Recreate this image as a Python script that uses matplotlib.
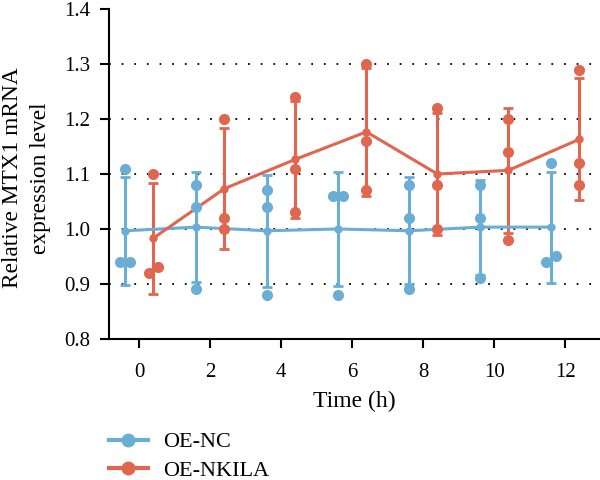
import numpy as np
import matplotlib
matplotlib.use("Agg")
import matplotlib.pyplot as plt
from matplotlib.lines import Line2D

# replicate values, one row per time point
times = [0, 2, 4, 6, 8, 10, 12]
nc_values = [
    [1.11, 0.94, 0.94],
    [1.08, 1.04, 0.89],
    [1.07, 1.04, 0.88],
    [1.06, 1.06, 0.88],
    [1.08, 1.02, 0.89],
    [1.08, 1.02, 0.91],
    [1.12, 0.94, 0.95],
]
nkila_values = [
    [1.10, 0.92, 0.93],
    [1.20, 1.02, 1.00],
    [1.24, 1.11, 1.03],
    [1.30, 1.16, 1.07],
    [1.22, 1.08, 1.00],
    [1.20, 1.14, 0.98],
    [1.29, 1.12, 1.08],
]
series_names = ["OE-NC", "OE-NKILA"]
x_ticks = [0, 2, 4, 6, 8, 10, 12]
y_ticks = [0.8, 0.9, 1.0, 1.1, 1.2, 1.3, 1.4]

BLUE = "#6aaed6"
RED = "#e0664f"

plt.rcParams["font.family"] = ["Liberation Serif", "DejaVu Serif"]


def spread(vals, width=0.13):
    # push overlapping replicate dots apart sideways, like a prism scatter
    offs = np.zeros(len(vals))
    groups = []
    for i in np.argsort(vals):
        if groups and abs(vals[i] - vals[groups[-1][-1]]) < 0.015:
            groups[-1].append(i)
        else:
            groups.append([i])
    for g in groups:
        n = len(g)
        for k, i in enumerate(g):
            offs[i] = (k - (n - 1) / 2) * 2 * width
    return offs


def draw_group(ax, values, shift, color):
    x = np.array(times) + shift
    vals = np.array(values)
    means = vals.mean(axis=1)
    sds = vals.std(axis=1, ddof=1)
    ax.errorbar(x, means, yerr=sds, fmt="o-", color=color, ms=5, lw=2.2,
                elinewidth=2.2, capsize=3.5, capthick=2, zorder=3)
    for xi, row in zip(x, vals):
        ax.plot(xi + spread(row), row, "o", color=color, ms=8, mec="none", zorder=4)


fig = plt.figure(figsize=(6, 4.8), dpi=100)
ax = fig.add_axes([0.1817, 0.294, 0.8183, 0.687])

for v in y_ticks[1:-1]:
    ax.axhline(v, color="black", lw=1.3, ls=(0, (1, 6)), zorder=1)

draw_group(ax, nc_values, -0.4, BLUE)
draw_group(ax, nkila_values, 0.4, RED)

ax.set_xlim(-0.85, 12.98)
ax.set_ylim(0.8, 1.4)
ax.set_xticks(x_ticks)
ax.set_yticks(y_ticks)
ax.set_yticklabels([f"{v:.1f}" for v in y_ticks])
for s in ["top", "right"]:
    ax.spines[s].set_visible(False)
for s in ["left", "bottom"]:
    ax.spines[s].set_linewidth(1.5)
ax.tick_params(length=6.5, width=1.5, labelsize=15)
ax.tick_params(axis="y", pad=7)
ax.tick_params(axis="x", pad=11)

ax.set_xlabel("Time (h)", fontsize=17, labelpad=6)
ax.text(-0.168, 0.488, "Relative MTX1 mRNA\nexpression level", transform=ax.transAxes,
        rotation=90, ha="center", va="center", fontsize=16.8, linespacing=1.42)

handles = [Line2D([], [], color=c, marker="o", ms=9, lw=3) for c in [BLUE, RED]]
ax.legend(handles, series_names, loc="upper left", bbox_to_anchor=(0, -0.282),
          frameon=False, fontsize=16, handlelength=1.75, handletextpad=0.7,
          labelspacing=0.36, borderpad=0, borderaxespad=0)

fig.savefig("out.png", dpi=100)
